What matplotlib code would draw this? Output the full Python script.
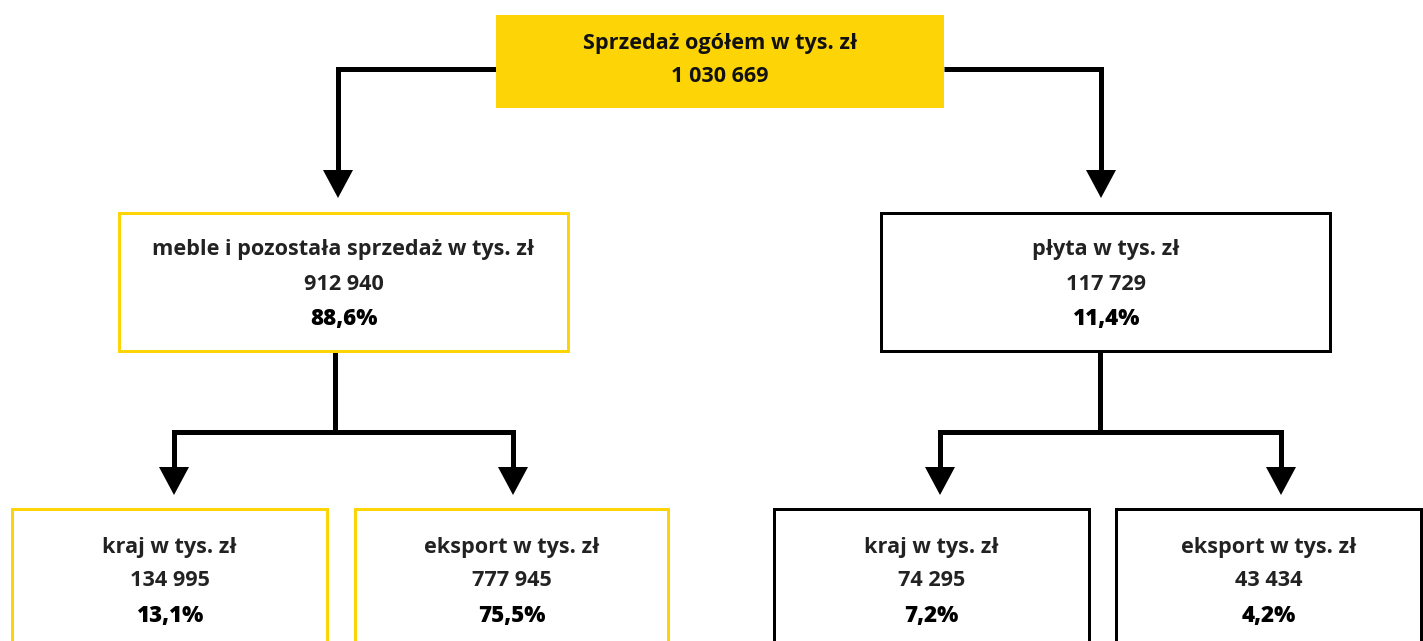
import matplotlib
import matplotlib.pyplot as plt
from matplotlib.patches import Rectangle, Polygon

matplotlib.use("Agg")

# data
labels = [
    "Sprzedaż ogółem w tys. zł",
    "meble i pozostała sprzedaż w tys. zł",
    "płyta w tys. zł",
    "kraj w tys. zł",
    "eksport w tys. zł",
    "kraj w tys. zł",
    "eksport w tys. zł",
]
values = ["1 030 669", "912 940", "117 729", "134 995", "777 945", "74 295", "43 434"]
shares = [None, "88,6%", "11,4%", "13,1%", "75,5%", "7,2%", "4,2%"]
parents = [None, 0, 0, 1, 1, 2, 2]

# layout (pixels)
YELLOW = "#fdd506"
LW = 5  # connector width px
boxes = [
    # x0, y0, x1, y1, face, edge
    (496, 15, 944, 108, YELLOW, None),
    (119, 213, 568, 351, "white", YELLOW),
    (881, 213, 1330, 351, "white", "black"),
    (12, 509, 327, 660, "white", YELLOW),
    (355, 509, 668, 660, "white", YELLOW),
    (774, 509, 1089, 660, "white", "black"),
    (1116, 509, 1421, 660, "white", "black"),
]
# y of first text line per box
text_y = [44, 250, 250, 547, 547, 547, 547]

FONT = ["Open Sans", "DejaVu Sans"]
FS = 15.6

fig = plt.figure(figsize=(14.23, 6.41), dpi=100)
ax = fig.add_axes([0, 0, 1, 1])
ax.set_xlim(0, 1423)
ax.set_ylim(641, 0)
ax.axis("off")

px = 72 / 100  # px -> pt


def arrow_down(x, ytip):
    ax.add_patch(Polygon([[x - 15, ytip - 28], [x + 15, ytip - 28], [x, ytip]],
                         closed=True, color="black", lw=0, zorder=3))


def conn(pts):
    xs, ys = zip(*pts)
    ax.plot(xs, ys, color="black", lw=LW * px, solid_joinstyle="miter",
            solid_capstyle="butt", zorder=2)


# connectors from top box
tb = boxes[0]
ymid = 69
conn([(tb[0], ymid), (338, ymid), (338, 175)])
arrow_down(338, 198)
conn([(tb[2], ymid), (1101, ymid), (1101, 175)])
arrow_down(1101, 198)

# connectors from middle boxes
for i, cx, kx in ((1, 335, [174, 513]), (2, 1100, [940, 1281])):
    b = boxes[i]
    conn([(cx, b[3]), (cx, 432)])
    conn([(kx[0], 472), (kx[0], 432), (kx[1], 432), (kx[1], 472)])
    for x in kx:
        arrow_down(x, 495)

# boxes and text
for i, (x0, y0, x1, y1, fc, ec) in enumerate(boxes):
    ax.add_patch(Rectangle((x0, y0), x1 - x0, y1 - y0, facecolor=fc,
                           edgecolor=ec if ec else "none", lw=3 * px, zorder=4))
    cx = (x0 + x1) / 2
    ty = text_y[i]
    if i == 0:
        ax.text(cx, ty, labels[i], ha="center", va="center", fontsize=FS,
                family=FONT, weight="bold", color="#111111", zorder=5)
        ax.text(cx, ty + 32, values[i], ha="center", va="center", fontsize=FS,
                family=FONT, weight="bold", color="#111111", zorder=5)
        continue
    ax.text(cx, ty, labels[i], ha="center", va="center", fontsize=FS,
            family=FONT, weight="bold", color="#222222", zorder=5)
    ax.text(cx, ty + 34, values[i], ha="center", va="center", fontsize=FS,
            family=FONT, weight="bold", color="#222222", zorder=5)
    ax.text(cx, ty + 69, shares[i], ha="center", va="center", fontsize=FS + 0.5,
            family=FONT, weight="heavy", color="black", zorder=5)

fig.savefig("out.png", dpi=100, facecolor="white")
